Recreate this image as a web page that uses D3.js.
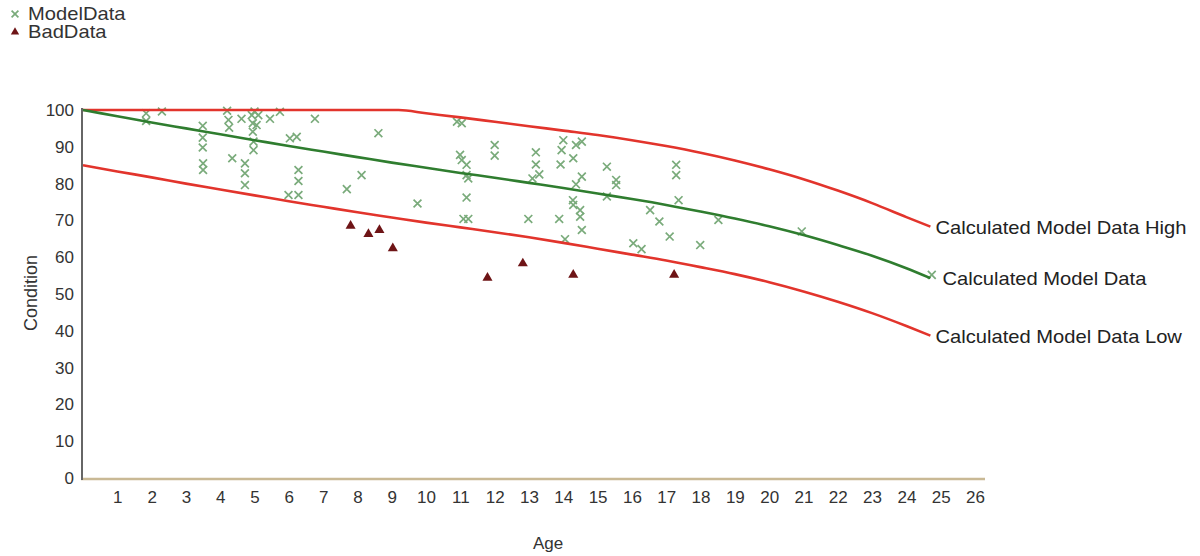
<!DOCTYPE html>
<html>
<head>
<meta charset="utf-8">
<script src="https://cdn.jsdelivr.net/npm/d3@7"></script>
<style>
  html, body { margin: 0; padding: 0; background: #fff; }
  svg { display: block; font-family: "Liberation Sans", Arial, sans-serif; }
</style>
</head>
<body>
<svg id="chart" width="1200" height="556"></svg>
<script>
// ---- data ----
const xTicks = [1,2,3,4,5,6,7,8,9,10,11,12,13,14,15,16,17,18,19,20,21,22,23,24,25,26];
const yTicks = [0,10,20,30,40,50,60,70,80,90,100];

const modelAges = [0,1,2,3,4,5,6,7,8,9,10,11,12,13,14,15,16,17,18,19,20,21,22,23,24,24.7];
const modelValues = [100,98.3,96.6,95.0,93.4,91.8,90.2,88.7,87.2,85.7,84.3,82.9,81.6,80.2,78.8,77.3,75.8,74.2,72.4,70.5,68.4,66.0,63.3,60.4,57.0,54.3];

const highAges = [0,1,2,3,4,5,6,7,8,9,9.2,10,11,12,13,14,15,16,17,18,19,20,21,22,23,24,24.7];
const highValues = [100,100,100,100,100,100,100,100,100,100,100,99.1,98.0,96.8,95.6,94.4,93.2,91.8,90.2,88.4,86.3,83.9,81.2,78.1,74.7,70.9,68.3];

const lowAges = [0,1,2,3,4,5,6,7,8,9,10,11,12,13,14,15,16,17,18,19,20,21,22,23,24,24.7];
const lowValues = [85,83.3,81.7,80.0,78.4,76.8,75.2,73.7,72.2,70.8,69.4,68.1,66.8,65.4,63.9,62.3,60.7,59.1,57.3,55.4,53.2,50.7,47.9,44.8,41.3,38.7];

const modelDataAge = [1.84,1.84,2.3,3.49,3.49,3.49,3.5,3.5,4.24,4.26,4.62,4.35,4.72,4.72,4.72,4.92,4.95,5.06,4.95,4.97,4.97,5.11,5.45,5.74,6.03,6.23,6.28,6.28,5.99,6.28,6.76,8.61,8.12,7.69,9.75,10.9,11.04,10.99,11.04,11.18,11.18,11.23,11.18,11.09,11.23,12.0,12.0,13.2,13.2,13.3,13.1,12.98,13.88,14.0,13.95,13.92,14.29,14.37,14.54,14.54,14.37,14.28,14.29,14.49,14.49,14.54,14.05,15.27,15.54,15.54,15.27,16.53,16.8,16.04,16.28,17.1,17.29,17.29,17.36,17.99,18.52,20.95,24.74,4.2,5.0];
const modelDataValue = [99.1,97.0,99.6,95.7,92.5,89.8,85.5,83.7,97.3,95.2,97.6,86.9,85.5,82.8,79.6,98.6,96.4,95.9,94.1,91.4,89.1,98.6,97.6,99.5,92.3,92.7,83.7,80.7,76.9,76.9,97.6,93.7,82.3,78.5,74.6,96.8,96.4,87.8,86.4,85.1,82.3,81.4,76.2,70.4,70.4,90.5,87.6,88.5,85.2,82.5,81.4,70.4,70.4,91.8,89.1,85.2,86.9,90.5,91.4,81.9,79.8,75.5,74.2,72.8,71.0,67.4,64.9,84.6,81.0,79.6,76.5,72.8,69.7,63.8,62.2,65.6,85.1,82.3,75.5,63.3,70.1,67.0,55.2,99.8,99.6];

const badDataAge = [7.8,8.32,8.64,9.03,11.79,12.82,14.29,17.23];
const badDataValue = [68.5,66.3,67.4,62.4,54.4,58.3,55.2,55.2];

const lineLabels = ["Calculated Model Data High","Calculated Model Data","Calculated Model Data Low"];
const legendLabels = ["ModelData","BadData"];

// ---- layout ----
const svg = d3.select("#chart");
const x = d3.scaleLinear().domain([0, 26]).range([83, 975]);
const y = d3.scaleLinear().domain([0, 100]).range([478, 110]);

const red = "#e2342c", green = "#2f7d2f", markerGreen = "#7aab7b", badColor = "#6e1416";
const txt = "#333";

// axes
const xAxis = d3.axisBottom(x).tickValues(xTicks).tickSize(0).tickPadding(13);
const gx = svg.append("g").attr("transform", "translate(0,478)").call(xAxis);
gx.select(".domain").remove();
gx.selectAll("text").attr("font-size", 17).attr("fill", txt);

const yAxis = d3.axisLeft(y).tickValues(yTicks).tickSize(0).tickPadding(8);
const gy = svg.append("g").attr("transform", "translate(82,0)").call(yAxis);
gy.select(".domain").remove();
gy.selectAll("text").attr("font-size", 17).attr("fill", txt);

svg.append("line").attr("x1", 81).attr("x2", 985).attr("y1", 479).attr("y2", 479)
  .attr("stroke", "#c9b995").attr("stroke-width", 2.5);
svg.append("line").attr("x1", 82).attr("x2", 82).attr("y1", 108).attr("y2", 480)
  .attr("stroke", "#666").attr("stroke-width", 2);

// axis titles
svg.append("text").attr("x", 548).attr("y", 549).attr("text-anchor", "middle")
  .attr("font-size", 17).attr("fill", txt).text("Age");
svg.append("text").attr("transform", "translate(37,293) rotate(-90)").attr("text-anchor", "middle")
  .attr("font-size", 18).attr("fill", txt).text("Condition");

// model data markers (x)
const xSym = d3.symbol().type(d3.symbolX).size(42);
svg.append("g").selectAll("path").data(modelDataAge.map((a, i) => [a, modelDataValue[i]]))
  .join("path")
  .attr("d", xSym)
  .attr("transform", d => `translate(${x(d[0])},${y(d[1])})`)
  .attr("fill", "none").attr("stroke", markerGreen).attr("stroke-width", 1.7);

// bad data triangles
const triSym = d3.symbol().type(d3.symbolTriangle).size(44);
svg.append("g").selectAll("path").data(badDataAge.map((a, i) => [a, badDataValue[i]]))
  .join("path")
  .attr("d", triSym)
  .attr("transform", d => `translate(${x(d[0])},${y(d[1])})`)
  .attr("fill", badColor);

// lines
const line = d3.line().x(d => x(d[0])).y(d => y(d[1])).curve(d3.curveMonotoneX);
const series = [
  {ages: highAges, vals: highValues, color: red, label: lineLabels[0], dx: 5},
  {ages: modelAges, vals: modelValues, color: green, label: lineLabels[1], dx: 12},
  {ages: lowAges, vals: lowValues, color: red, label: lineLabels[2], dx: 5}
];
series.forEach(s => {
  const pts = s.ages.map((a, i) => [a, s.vals[i]]);
  svg.append("path").datum(pts).attr("d", line)
    .attr("fill", "none").attr("stroke", s.color).attr("stroke-width", 2.6);
  const last = pts[pts.length - 1];
  svg.append("text")
    .attr("transform", `translate(${x(last[0]) + s.dx},${y(last[1]) + 7}) scale(1.12,1)`)
    .attr("font-size", 18).attr("fill", "#222").text(s.label);
});

// legend
const lg = svg.append("g");
lg.append("path").attr("d", d3.symbol().type(d3.symbolX).size(32))
  .attr("transform", "translate(15,14)").attr("fill", "none").attr("stroke", markerGreen).attr("stroke-width", 1.7);
lg.append("text").attr("transform", "translate(28,20) scale(1.12,1)")
  .attr("font-size", 18).attr("fill", txt).text(legendLabels[0]);
lg.append("path").attr("d", d3.symbol().type(d3.symbolTriangle).size(30))
  .attr("transform", "translate(15,32)").attr("fill", badColor);
lg.append("text").attr("transform", "translate(28,38) scale(1.12,1)")
  .attr("font-size", 18).attr("fill", txt).text(legendLabels[1]);
</script>
</body>
</html>
